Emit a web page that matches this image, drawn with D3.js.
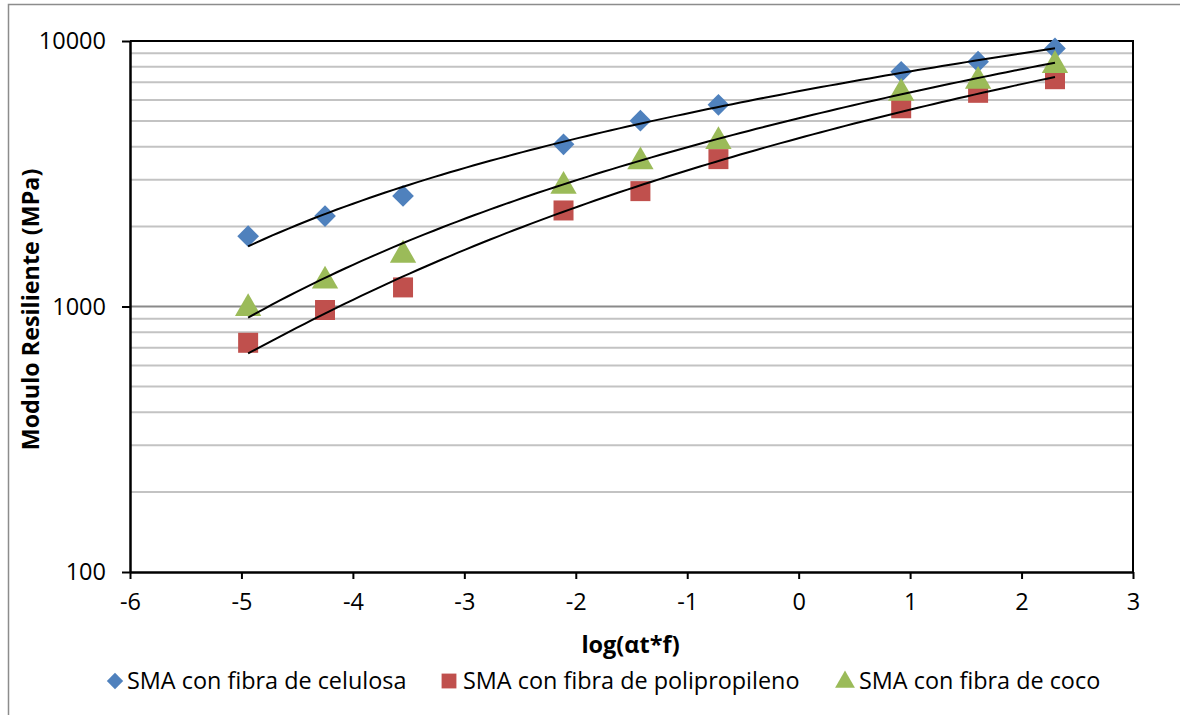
<!DOCTYPE html>
<html>
<head>
<meta charset="utf-8">
<script src="https://cdn.jsdelivr.net/npm/d3@7"></script>
<style>
  html, body { margin: 0; padding: 0; background: #fff; }
  svg { display: block; }
  text { font-family: "Open Sans", "Noto Sans", sans-serif; fill: #000; }
</style>
</head>
<body>
<svg id="chart" width="1180" height="715"></svg>
<script>
// log(αt*f) for each test condition
const xValues = [-4.94, -4.25, -3.55, -2.11, -1.42, -0.72, 0.92, 1.61, 2.30];

// Resilient modulus (MPa) per mixture
const celulosa      = [1840, 2190, 2610, 4080, 5010, 5750, 7660, 8360, 9380];
const polipropileno = [730, 970, 1180, 2300, 2720, 3590, 5580, 6380, 7180];
const coco          = [1000, 1270, 1590, 2890, 3570, 4260, 6470, 7180, 8240];

const seriesNames = ["SMA con fibra de celulosa", "SMA con fibra de polipropileno", "SMA con fibra de coco"];
const seriesColors = ["#4F81BD", "#C0504D", "#9BBB59"];
const seriesSymbols = [d3.symbolDiamond2, d3.symbolSquare, d3.symbolTriangle];

const xTicks = [-6, -5, -4, -3, -2, -1, 0, 1, 2, 3];
const yTicks = [100, 1000, 10000];

const xTitle = "log(αt*f)";
const yTitle = "Modulo Resiliente (MPa)";

const svg = d3.select("#chart");
const W = 1180, H = 715;
const plot = { left: 130, top: 41, right: 1133, bottom: 572 };

const x = d3.scaleLinear().domain([-6, 3]).range([plot.left, plot.right]);
const y = d3.scaleLog().domain([100, 10000]).range([plot.bottom, plot.top]);

// outer chart frame (partly cut at right/bottom)
svg.append("path")
  .attr("d", `M8.5,${H} L8.5,4.5 L${W},4.5`)
  .attr("fill", "none").attr("stroke", "#8c8c8c").attr("stroke-width", 1.5);

// minor gridlines (2..9 within each decade)
const minor = [];
for (let dec = 100; dec < 10000; dec *= 10) {
  for (let k = 2; k <= 9; k++) minor.push(dec * k);
}
svg.append("g").selectAll("line").data(minor).join("line")
  .attr("x1", plot.left).attr("x2", plot.right)
  .attr("y1", d => y(d)).attr("y2", d => y(d))
  .attr("stroke", "#c3c3c3").attr("stroke-width", 2);

// major gridlines
svg.append("g").selectAll("line").data([1000]).join("line")
  .attr("x1", plot.left).attr("x2", plot.right)
  .attr("y1", d => y(d)).attr("y2", d => y(d))
  .attr("stroke", "#8a8a8a").attr("stroke-width", 2);

// plot frame top and right
svg.append("path")
  .attr("d", `M${plot.left},${plot.top} L${plot.right},${plot.top} L${plot.right},${plot.bottom}`)
  .attr("fill", "none").attr("stroke", "#000").attr("stroke-width", 2);

// axes
const xAxis = d3.axisBottom(x).tickValues(xTicks).tickFormat(d => d < 0 ? "-" + Math.abs(d) : String(d))
  .tickSizeInner(7).tickSizeOuter(0).tickPadding(14);
const gx = svg.append("g").attr("transform", `translate(0,${plot.bottom})`).call(xAxis);
gx.select(".domain").attr("stroke", "#000").attr("stroke-width", 2.5);
gx.selectAll(".tick line").attr("stroke", "#000").attr("stroke-width", 2);
gx.selectAll(".tick text").attr("font-size", 23.5).attr("font-family", "Open Sans, sans-serif");

const yAxis = d3.axisLeft(y).tickValues(yTicks).tickFormat(d3.format("d"))
  .tickSizeInner(8).tickSizeOuter(0).tickPadding(16);
const gy = svg.append("g").attr("transform", `translate(${plot.left},0)`).call(yAxis);
gy.select(".domain").attr("stroke", "#000").attr("stroke-width", 2.5);
gy.selectAll(".tick line").attr("stroke", "#000").attr("stroke-width", 2);
gy.selectAll(".tick text").attr("font-size", 23.5).attr("font-family", "Open Sans, sans-serif");

// axis titles
svg.append("text")
  .attr("x", (plot.left + plot.right) / 2 - 1).attr("y", 653)
  .attr("text-anchor", "middle").attr("font-size", 23.5).attr("font-weight", "bold")
  .text(xTitle);
svg.append("text")
  .attr("transform", `translate(39,${(plot.top + plot.bottom) / 2 + 3}) rotate(-90)`)
  .attr("text-anchor", "middle").attr("font-size", 23.3).attr("font-weight", "bold")
  .text(yTitle);

// second-order polynomial least-squares fit
function polyFit2(xs, ys) {
  let s = [0, 0, 0, 0, 0], t = [0, 0, 0];
  xs.forEach((xi, i) => {
    const yi = ys[i];
    for (let p = 0; p <= 4; p++) s[p] += Math.pow(xi, p);
    for (let p = 0; p <= 2; p++) t[p] += yi * Math.pow(xi, p);
  });
  const A = [[s[0], s[1], s[2], t[0]], [s[1], s[2], s[3], t[1]], [s[2], s[3], s[4], t[2]]];
  for (let c = 0; c < 3; c++) {
    let piv = c;
    for (let r = c + 1; r < 3; r++) if (Math.abs(A[r][c]) > Math.abs(A[piv][c])) piv = r;
    [A[c], A[piv]] = [A[piv], A[c]];
    for (let r = 0; r < 3; r++) {
      if (r === c) continue;
      const f = A[r][c] / A[c][c];
      for (let k = c; k < 4; k++) A[r][k] -= f * A[c][k];
    }
  }
  const co = [A[0][3] / A[0][0], A[1][3] / A[1][1], A[2][3] / A[2][2]];
  return xv => co[0] + co[1] * xv + co[2] * xv * xv;
}

const allSeries = [celulosa, polipropileno, coco];
const xMin = d3.min(xValues), xMax = d3.max(xValues);

// markers
allSeries.forEach((vals, si) => {
  const sym = d3.symbol().type(seriesSymbols[si])
    .size(si === 0 ? 300 : (si === 1 ? 400 : 300));
  svg.append("g").selectAll("path").data(vals).join("path")
    .attr("transform", (d, i) => `translate(${x(xValues[i])},${y(d) + (si === 2 ? 2 : 0)})`)
    .attr("d", sym)
    .attr("fill", seriesColors[si]);
});

// trend lines
const line = d3.line().x(d => x(d[0])).y(d => y(d[1])).curve(d3.curveLinear);
allSeries.forEach((vals, si) => {
  const f = polyFit2(xValues, vals);
  const pts = d3.range(0, 101).map(k => {
    const xv = xMin + (xMax - xMin) * k / 100;
    return [xv, f(xv)];
  });
  svg.append("path").datum(pts)
    .attr("d", line).attr("fill", "none")
    .attr("stroke", "#000").attr("stroke-width", 2);
});

// legend
const legendX = [115, 449, 845];
const legend = svg.append("g");
seriesNames.forEach((name, si) => {
  const g = legend.append("g").attr("transform", `translate(${legendX[si]},681)`);
  g.append("path")
    .attr("d", d3.symbol().type(seriesSymbols[si]).size(si === 1 ? 220 : 170))
    .attr("transform", si === 2 ? "translate(0,1)" : null)
    .attr("fill", seriesColors[si]);
  g.append("text").attr("x", si === 0 ? 12 : 14).attr("y", 8)
    .attr("font-size", 23.4).text(name);
});
</script>
</body>
</html>
